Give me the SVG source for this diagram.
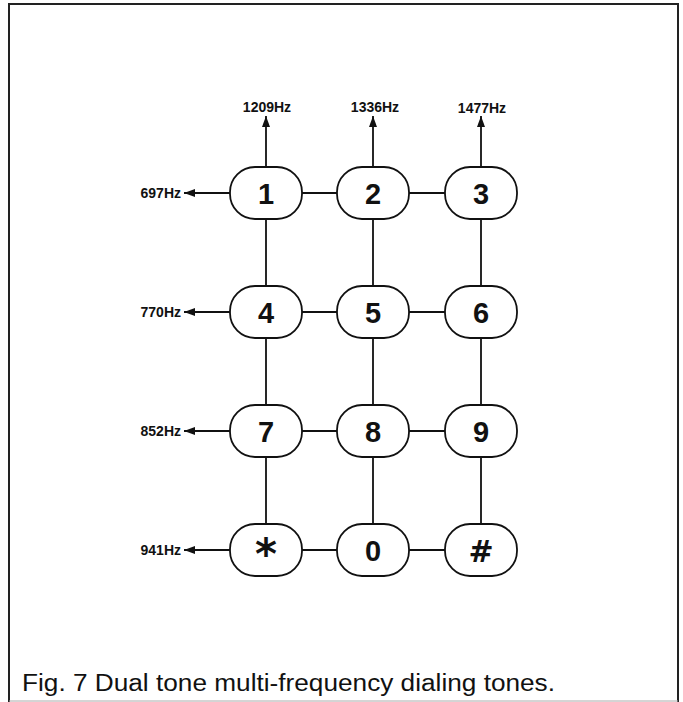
<svg xmlns="http://www.w3.org/2000/svg" width="683" height="702" viewBox="0 0 683 702">
<style>
.key{fill:#fff;stroke:#111;stroke-width:1.8}
.dig{font-family:"Liberation Sans",Arial,sans-serif;font-weight:bold;font-size:29px;fill:#111;text-anchor:middle}
.lbl{font-family:"Liberation Sans",Arial,sans-serif;font-weight:bold;font-size:14px;fill:#111}
.ln{stroke:#111;stroke-width:1.8;fill:none}
.cap{font-family:"Liberation Sans",Arial,sans-serif;font-size:23px;fill:#111}
</style>
<defs>
<marker id="ah" markerUnits="userSpaceOnUse" markerWidth="12" markerHeight="10" refX="11" refY="5" orient="auto">
<path d="M0,1 L11,5 L0,9 Z" fill="#111"/>
</marker>
</defs>
<rect x="0" y="0" width="683" height="702" fill="#fff"/>
<path d="M9,702 V4 H678 V702" fill="none" stroke="#222" stroke-width="2"/>
<path d="M9,701 H678" stroke="#aaa" stroke-width="1"/>
<g id="connectors">
<path class="ln" d="M302,193 H337 M409,193 H445"/>
<path class="ln" d="M302,312 H337 M409,312 H445"/>
<path class="ln" d="M302,431 H337 M409,431 H445"/>
<path class="ln" d="M302,550 H337 M409,550 H445"/>
<path class="ln" d="M266,219 V286 M266,338 V405 M266,457 V524"/>
<path class="ln" d="M373,219 V286 M373,338 V405 M373,457 V524"/>
<path class="ln" d="M481,219 V286 M481,338 V405 M481,457 V524"/>
<path class="ln" d="M266,167 V116" marker-end="url(#ah)"/>
<path class="ln" d="M373,167 V116" marker-end="url(#ah)"/>
<path class="ln" d="M481,167 V116" marker-end="url(#ah)"/>
<path class="ln" d="M230,193 H184" marker-end="url(#ah)"/>
<path class="ln" d="M230,312 H184" marker-end="url(#ah)"/>
<path class="ln" d="M230,431 H184" marker-end="url(#ah)"/>
<path class="ln" d="M230,550 H184" marker-end="url(#ah)"/>
</g>
<g id="labels">
<text class="lbl" x="267" y="112" text-anchor="middle">1209Hz</text>
<text class="lbl" x="375" y="112" text-anchor="middle">1336Hz</text>
<text class="lbl" x="482" y="113" text-anchor="middle">1477Hz</text>
<text class="lbl" x="181" y="198" text-anchor="end">697Hz</text>
<text class="lbl" x="181" y="317" text-anchor="end">770Hz</text>
<text class="lbl" x="181" y="436" text-anchor="end">852Hz</text>
<text class="lbl" x="181" y="555" text-anchor="end">941Hz</text>
</g>
<g id="key1"><rect class="key" x="230" y="167" width="72" height="52" rx="25" ry="25"/><text class="dig" x="266" y="204">1</text></g>
<g id="key2"><rect class="key" x="337" y="167" width="72" height="52" rx="25" ry="25"/><text class="dig" x="373" y="204">2</text></g>
<g id="key3"><rect class="key" x="445" y="167" width="72" height="52" rx="25" ry="25"/><text class="dig" x="481" y="204">3</text></g>
<g id="key4"><rect class="key" x="230" y="286" width="72" height="52" rx="25" ry="25"/><text class="dig" x="266" y="323">4</text></g>
<g id="key5"><rect class="key" x="337" y="286" width="72" height="52" rx="25" ry="25"/><text class="dig" x="373" y="323">5</text></g>
<g id="key6"><rect class="key" x="445" y="286" width="72" height="52" rx="25" ry="25"/><text class="dig" x="481" y="323">6</text></g>
<g id="key7"><rect class="key" x="230" y="405" width="72" height="52" rx="25" ry="25"/><text class="dig" x="266" y="442">7</text></g>
<g id="key8"><rect class="key" x="337" y="405" width="72" height="52" rx="25" ry="25"/><text class="dig" x="373" y="442">8</text></g>
<g id="key9"><rect class="key" x="445" y="405" width="72" height="52" rx="25" ry="25"/><text class="dig" x="481" y="442">9</text></g>
<g id="keystar"><rect class="key" x="230" y="524" width="72" height="52" rx="25" ry="25"/><text class="dig" x="266" y="569" style="font-family:'DejaVu Sans',sans-serif;font-size:42px">*</text></g>
<g id="key0"><rect class="key" x="337" y="524" width="72" height="52" rx="25" ry="25"/><text class="dig" x="373" y="561">0</text></g>
<g id="keyhash"><rect class="key" x="445" y="524" width="72" height="52" rx="25" ry="25"/><text class="dig" x="481" y="562" style="font-family:'DejaVu Sans',sans-serif;font-size:30px">#</text></g>
<text class="cap" x="22" y="691" textLength="533" lengthAdjust="spacingAndGlyphs">Fig. 7 Dual tone multi-frequency dialing tones.</text>
</svg>
